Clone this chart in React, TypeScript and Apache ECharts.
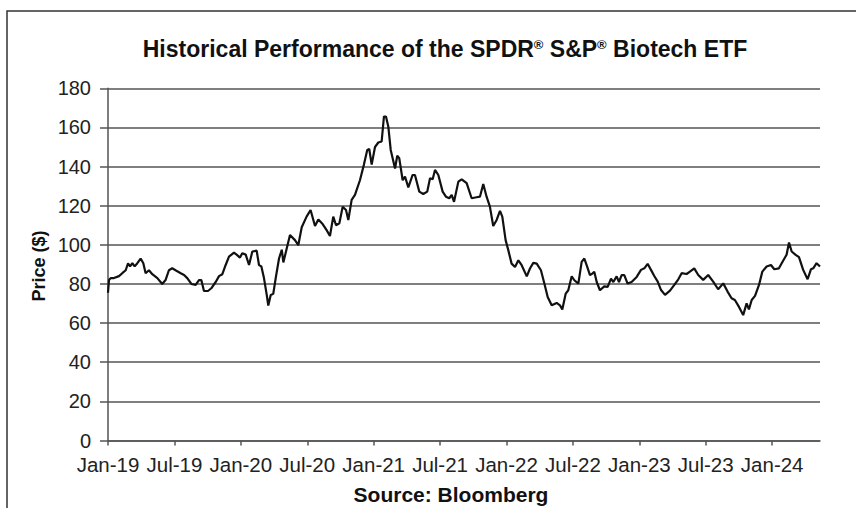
import React, { useEffect, useRef } from "react";
import * as echarts from "echarts";

// Time in months since Jan-2019, and ETF price ($)
const months = [
  0, 0.09, 0.24, 0.54, 0.99, 1.29, 1.6, 1.81, 1.99, 2.2, 2.41, 2.65, 2.95, 3.19, 3.4, 3.7, 4.0, 4.46, 4.9, 5.2,
  5.5, 5.8, 6.1, 6.57, 6.87, 7.16, 7.53, 7.92, 8.22, 8.43, 8.67, 9.03, 9.33, 9.73, 10.03, 10.33, 10.63, 10.93, 11.38, 11.62,
  11.92, 12.13, 12.44, 12.74, 13.04, 13.43, 13.64, 13.85, 14.09, 14.34, 14.48, 14.7, 14.93, 15.15, 15.45, 15.7, 15.84, 16.44, 16.89, 17.19,
  17.5, 17.94, 18.3, 18.7, 19.0, 19.39, 19.75, 20.05, 20.35, 20.6, 20.9, 21.2, 21.5, 21.71, 22.01, 22.31, 22.76, 23.12, 23.42, 23.6,
  23.82, 24.12, 24.42, 24.72, 24.93, 25.11, 25.32, 25.54, 25.93, 26.13, 26.31, 26.62, 26.83, 27.13, 27.52, 27.73, 28.12, 28.48, 28.84, 29.09,
  29.33, 29.54, 29.84, 30.23, 30.53, 30.83, 31.05, 31.26, 31.65, 31.95, 32.4, 32.85, 33.3, 33.6, 33.9, 34.2, 34.5, 34.8, 35.11, 35.41,
  35.62, 35.92, 36.16, 36.46, 36.77, 37.07, 37.37, 37.83, 38.12, 38.42, 38.73, 39.11, 39.42, 39.72, 40.08, 40.53, 40.83, 41.04, 41.35, 41.58,
  41.89, 42.13, 42.49, 42.79, 43.03, 43.24, 43.54, 43.75, 43.93, 44.15, 44.44, 44.83, 45.14, 45.44, 45.65, 45.95, 46.16, 46.4, 46.64, 46.94,
  47.3, 47.76, 48.15, 48.45, 48.75, 49.05, 49.35, 49.66, 49.96, 50.32, 50.77, 51.16, 51.52, 51.82, 52.27, 52.57, 52.96, 53.32, 53.77, 54.22,
  54.67, 55.12, 55.58, 55.97, 56.33, 56.63, 56.99, 57.38, 57.69, 57.9, 58.15, 58.45, 58.81, 59.11, 59.5, 59.89, 60.19, 60.61, 61.0, 61.3,
  61.52, 61.76, 62.12, 62.42, 62.8, 63.2, 63.5, 63.71, 64.01, 64.32,
];

const prices = [
  75.5, 82, 83, 83, 84, 85.5, 87, 90.6, 89, 90.6, 89, 90.6, 93, 90.6, 85.5, 87, 85, 83, 80, 82,
  87, 88, 87, 85.5, 84.6, 83, 80, 79.5, 82, 82, 76.4, 76.4, 77.8, 81, 84, 85, 89.7, 94, 96, 95,
  93.5, 95.7, 95, 89.7, 96.6, 97, 89.7, 89, 83, 74.4, 69, 74.4, 75, 83, 93, 97.5, 91, 105, 102.4, 99.8,
  109, 114.4, 117.8, 109.6, 113, 110.6, 107.5, 104.5, 114.4, 110, 111, 119.5, 117.8, 112.7, 123, 125.5, 133, 141, 148.5, 149,
  141, 150, 152.3, 152.8, 165.6, 165.6, 160.5, 148.5, 139, 145.5, 144.3, 133, 134.9, 129.4, 135.7, 135.7, 127.2, 126, 127.2, 134,
  133.5, 138.3, 135.7, 127.2, 124.6, 123.8, 125.5, 122, 132.3, 133.5, 131.5, 123.8, 124.3, 124.6, 131.1, 124.6, 119.5, 109.6, 112.7, 117.4,
  114.4, 102.4, 97.3, 90.4, 88.7, 92.1, 89.6, 83.9, 87.9, 90.8, 90.4, 87, 80.2, 73.3, 69.1, 70.3, 69.1, 66.9, 75.1, 76.8,
  83.9, 81.9, 80.2, 91.3, 93, 89.6, 84.5, 85.3, 86.2, 81, 76.8, 78.8, 78.5, 82.7, 81, 83.9, 81, 84.5, 84.5, 80.2,
  81, 83.6, 87.2, 88, 90.3, 87.2, 84.1, 81.2, 76.9, 74.4, 76.6, 79.5, 82.4, 85.5, 85.1, 86.3, 88, 84.6, 82.1, 84.6,
  81.2, 77.3, 80.3, 76.1, 72.7, 71.8, 68.4, 64.1, 70.1, 67, 71.8, 73.9, 79.5, 86.3, 88.9, 89.7, 87.5, 88, 92, 94.9,
  101.2, 96.6, 94.9, 93.7, 87.2, 82.4, 87.5, 88, 90.6, 88.9,
];

const tickMonths = [0, 6, 12, 18, 24, 30, 36, 42, 48, 54, 60];
const tickLabels = [
  "Jan-19", "Jul-19", "Jan-20", "Jul-20", "Jan-21", "Jul-21",
  "Jan-22", "Jul-22", "Jan-23", "Jul-23", "Jan-24",
];

const FONT = "'Liberation Sans', Arial, sans-serif";

export default function App() {
  const ref = useRef<HTMLDivElement>(null);

  useEffect(() => {
    if (!ref.current) return;
    const chart = echarts.init(ref.current, null, { renderer: "svg" });
    const data = months.map((m, i) => [m, prices[i]]);
    chart.setOption({
      animation: false,
      backgroundColor: "#ffffff",
      textStyle: { fontFamily: FONT },
      grid: { left: 108, right: 36, top: 88.3, bottom: 67.5, containLabel: false },
      xAxis: {
        type: "value",
        min: 0,
        max: months[months.length - 1],
        axisLine: { show: true, lineStyle: { color: "#555", width: 1.5 } },
        axisTick: {
          show: true,
          customValues: tickMonths,
          length: 5,
          lineStyle: { color: "#555", width: 1.5 },
        },
        axisLabel: {
          customValues: tickMonths,
          formatter: (v: number) => {
            const i = tickMonths.indexOf(Math.round(v));
            return i >= 0 ? tickLabels[i] : "";
          },
          fontSize: 20.5,
          color: "#222",
          margin: 13,
          fontFamily: FONT,
        },
        splitLine: { show: false },
      },
      yAxis: {
        type: "value",
        min: 0,
        max: 180,
        interval: 20,
        axisLine: { show: true, lineStyle: { color: "#555", width: 1.5 } },
        axisTick: { show: true, length: 8, lineStyle: { color: "#555", width: 1.5 } },
        axisLabel: { fontSize: 20, color: "#222", margin: 17, fontFamily: FONT },
        splitLine: { show: true, lineStyle: { color: "#555", width: 1.5 } },
      },
      series: [
        {
          type: "line",
          data,
          showSymbol: false,
          lineStyle: { color: "#111", width: 2.2 },
          z: 5,
        },
      ],
      graphic: [
        {
          type: "rect",
          shape: { x: 7, y: 11, width: 900, height: 600 },
          style: { fill: "none", stroke: "#333", lineWidth: 1.5 },
          silent: true,
          z: -1,
        },
        {
          type: "text",
          x: 445,
          y: 49,
          style: {
            text: "Historical Performance of the SPDR{sup|®} S&P{sup|®} Biotech ETF",
            font: `bold 23px ${FONT}`,
            fill: "#111",
            align: "center",
            verticalAlign: "middle",
            rich: {
              sup: { fontSize: 13, fontWeight: "bold", fill: "#111", verticalAlign: "top", fontFamily: FONT },
            },
          },
        },
        {
          type: "text",
          x: 39,
          y: 266,
          rotation: Math.PI / 2,
          style: {
            text: "Price ($)",
            font: `bold 18px ${FONT}`,
            fill: "#111",
            align: "center",
            verticalAlign: "middle",
          },
        },
        {
          type: "text",
          x: 451,
          y: 494,
          style: {
            text: "Source: Bloomberg",
            font: `bold 21px ${FONT}`,
            fill: "#111",
            align: "center",
            verticalAlign: "middle",
          },
        },
      ],
    });
    return () => chart.dispose();
  }, []);

  return (
    <div
      ref={ref}
      style={{ position: "absolute", left: 0, top: 0, width: 856, height: 508 }}
    />
  );
}
